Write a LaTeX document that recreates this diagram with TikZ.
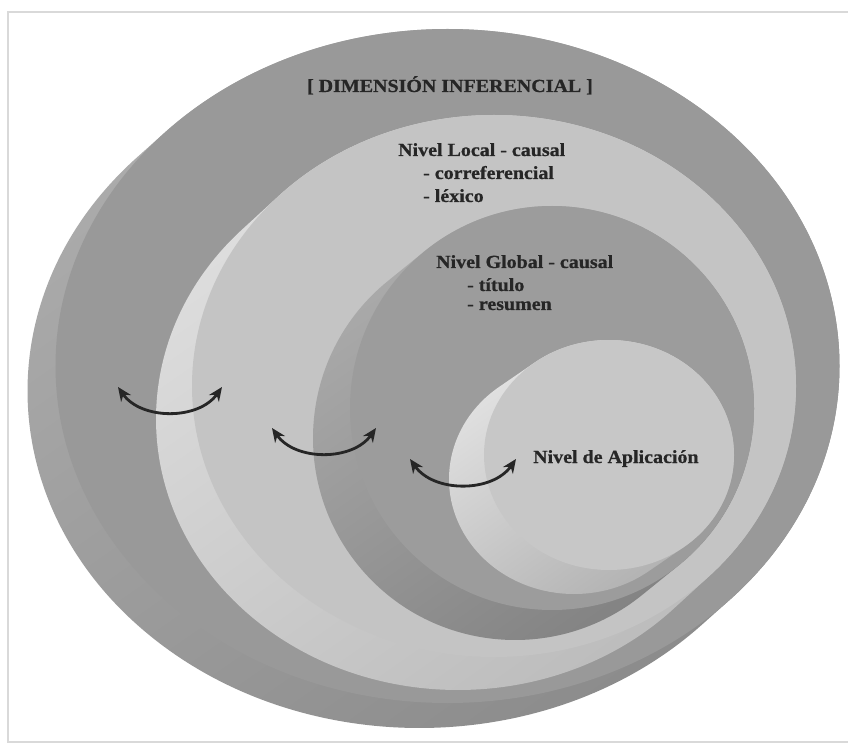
\documentclass[tikz,border=0pt]{standalone}
\usepackage{fontspec}
\setmainfont{Liberation Serif}
\newfontfamily\lblfont[FakeStretch=1.08,FakeBold=0.8]{Liberation Serif}
\usetikzlibrary{arrows.meta}

% face colours of the four stacked slabs
\definecolor{outertop}{gray}{0.60}
\definecolor{outersideA}{gray}{0.68}
\definecolor{outersideB}{gray}{0.54}
\definecolor{localtop}{gray}{0.77}
\definecolor{localsideA}{gray}{0.88}
\definecolor{localsideB}{gray}{0.73}
\definecolor{globaltop}{gray}{0.61}
\definecolor{globalsideA}{gray}{0.68}
\definecolor{globalsideB}{gray}{0.50}
\definecolor{applytop}{gray}{0.78}
\definecolor{applysideA}{gray}{0.90}
\definecolor{applysideB}{gray}{0.68}

% \slab{cx}{cy}{rx}{ry}{dx}{dy}{top}{side light}{side dark}
% an elliptic slab: top face centred at (cx,cy), extruded by (dx,dy)
\newcommand\slab[9]{%
  \pgfmathsetmacro\slabt{atan2(-(#4)*(#5),(#3)*(#6))}%
  \pgfmathsetmacro\slabu{\slabt+180}%
  \shade[top color=#8, bottom color=#9, shading angle=35]
    ({#1+(#5)+(#3)*cos(\slabt)},{#2+(#6)+(#4)*sin(\slabt)})
    arc[start angle=\slabt, end angle=\slabu, x radius=#3, y radius=#4]
    -- ({#1+(#3)*cos(\slabu)},{#2+(#4)*sin(\slabu)})
    arc[start angle=\slabu, end angle=\slabu+180, x radius=#3, y radius=#4]
    -- cycle;
  \fill[#7] (#1,#2) ellipse[x radius=#3, y radius=#4];
}

\begin{document}
\begin{tikzpicture}[x=1pt, y=1pt,
  lbl/.style={font=\lblfont\bfseries\fontsize{18.5}{22}\selectfont,
              text=black!85, inner sep=0pt, anchor=base west},
  swing/.style={line width=2.8pt, black!85,
                {Stealth[length=14pt,width=12pt]}-{Stealth[length=14pt,width=12pt]},
                bend right=55}]

\useasboundingbox (0,0) rectangle (848,745);
\fill[white] (0,0) rectangle (848,745);

% frame
\draw[gray!30, line width=1.6pt] (860,3) -- (8,3) -- (8,733) -- (860,733);

% slabs, from the outermost inwards
\slab{447.5}{379}{392}{337}{-28}{-25}{outertop}{outersideA}{outersideB}
\slab{494}{359}{302}{271}{-36}{-33}{localtop}{localsideA}{localsideB}
\slab{552}{337}{202}{202}{-37}{-30}{globaltop}{globalsideA}{globalsideB}
\slab{609}{290}{125}{115}{-35}{-24}{applytop}{applysideA}{applysideB}

% labels
\node[lbl, anchor=base] (dim) at (450,653) {[ DIMENSIÓN INFERENCIAL ]};
\node[lbl] (loc1) at (398,589) {Nivel Local - causal};
\node[lbl] (loc2) at (423,566) {- correferencial};
\node[lbl] (loc3) at (423,543) {- léxico};
\node[lbl] (glo1) at (436,477) {Nivel Global - causal};
\node[lbl] (glo2) at (467,454) {- título};
\node[lbl] (glo3) at (467,435) {- resumen};
\node[lbl] (apl) at (533,282) {Nivel de Aplicación};

% two-way links between neighbouring levels
\coordinate (s1l) at (118,358);
\coordinate (s1r) at (222,358);
\coordinate (s2l) at (272,317);
\coordinate (s2r) at (376,317);
\coordinate (s3l) at (410,286);
\coordinate (s3r) at (516,286);
\draw[swing] (s1l) to (s1r);
\draw[swing] (s2l) to (s2r);
\draw[swing] (s3l) to (s3r);
\end{tikzpicture}
\end{document}
